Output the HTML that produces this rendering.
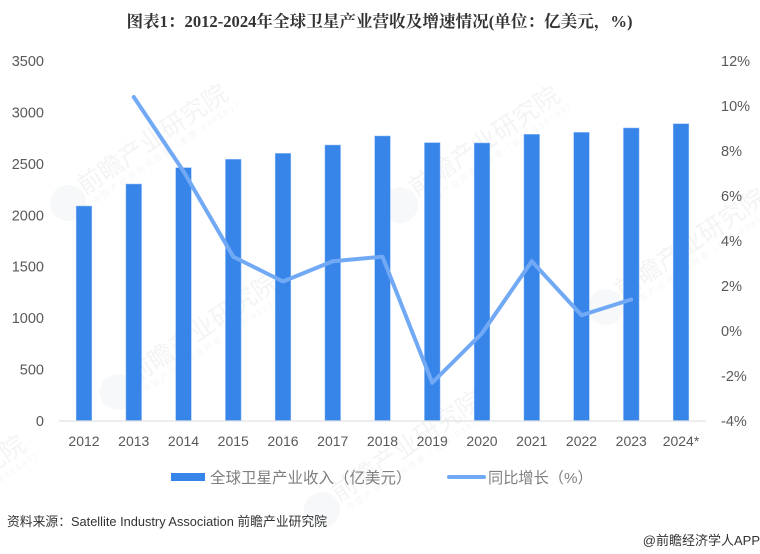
<!DOCTYPE html>
<html lang="zh-CN">
<head>
<meta charset="utf-8">
<title>全球卫星产业营收及增速情况</title>
<style>
html,body{margin:0;padding:0;background:#fff;}
body{width:760px;height:554px;overflow:hidden;}
svg{display:block;}
text{font-family:"Liberation Sans","Noto Sans CJK SC",sans-serif;}
</style>
</head>
<body>
<svg id="chart" width="760" height="554" viewBox="0 0 760 554" xmlns="http://www.w3.org/2000/svg">
  <rect x="0" y="0" width="760" height="554" fill="#ffffff"/>
  <g id="watermarks"></g>
  <text x="379.5" y="27" text-anchor="middle" font-size="16.6" font-weight="700" fill="#333333" style="font-family:'Liberation Serif','Noto Serif CJK SC',serif">图表1：2012-2024年全球卫星产业营收及增速情况(单位：亿美元，%)</text>
  <g id="left-axis"></g>
  <g id="right-axis"></g>
  <g id="bars"></g>
  <line x1="59" y1="421" x2="706" y2="421" stroke="#e2e2e2" stroke-width="1.2"/>
  <g id="x-axis"></g>
  <path id="growth-line" fill="none" stroke="#72a9f5" stroke-width="4" stroke-linecap="round" stroke-linejoin="round"/>
  <g>
    <rect x="171" y="473" width="34" height="8" fill="#3885e9"/>
    <text x="210" y="483" font-size="15.5" fill="#7f7f7f">全球卫星产业收入（亿美元）</text>
    <line x1="449" y1="477" x2="484" y2="477" stroke="#72a9f5" stroke-width="4" stroke-linecap="round"/>
    <text x="488" y="483" font-size="15.2" fill="#7f7f7f">同比增长（%）</text>
  </g>
  <text x="7" y="526" font-size="12.8" fill="#333333">资料来源：Satellite Industry Association 前瞻产业研究院</text>
  <text x="760" y="545" text-anchor="end" font-size="13" fill="#333333">@前瞻经济学人APP</text>
</svg>
<script>
const categories = ['2012','2013','2014','2015','2016','2017','2018','2019','2020','2021','2022','2023','2024*'];
const revenueValues = [2090,2304,2463,2544,2602,2683,2771,2706,2703,2787,2806,2849,2890];
const growthValues = [null,10.4,7.1,3.3,2.2,3.1,3.3,-2.3,-0.1,3.1,0.7,1.4,null];
const leftTicks = [0,500,1000,1500,2000,2500,3000,3500];
const rightTicks = [-4,-2,0,2,4,6,8,10,12];

const NS = 'http://www.w3.org/2000/svg';
const plotTop = 61, plotBottom = 421, firstX = 84, stepX = 49.75, barWidth = 15.6;
const leftMax = 3500, rightMin = -4, rightMax = 12;
function xPos(i){ return firstX + stepX * i; }
function yLeft(v){ return plotBottom - (v / leftMax) * (plotBottom - plotTop); }
function yRight(v){ return plotBottom - ((v - rightMin) / (rightMax - rightMin)) * (plotBottom - plotTop); }
function make(tag, parent){
  const el = document.createElementNS(NS, tag);
  parent.appendChild(el);
  return el;
}

const leftAxis = document.getElementById('left-axis');
leftTicks.forEach(function(t){
  const el = make('text', leftAxis);
  
  
  el.setAttribute('x', 44);
  el.setAttribute('y', yLeft(t) + 5);
  el.setAttribute('text-anchor', 'end');
  el.setAttribute('font-size', '14.5');
  el.setAttribute('fill', '#595959');
  el.textContent = String(t);
});

const rightAxis = document.getElementById('right-axis');
rightTicks.forEach(function(t){
  const el = make('text', rightAxis);
  
  
  el.setAttribute('x', 721);
  el.setAttribute('y', yRight(t) + 5);
  el.setAttribute('font-size', '14.5');
  el.setAttribute('fill', '#595959');
  el.textContent = t + '%';
});

const barsGroup = document.getElementById('bars');
revenueValues.forEach(function(v, i){
  const el = make('rect', barsGroup);
  
  
  el.setAttribute('x', xPos(i) - barWidth / 2);
  el.setAttribute('y', yLeft(v));
  el.setAttribute('width', barWidth);
  el.setAttribute('height', plotBottom - yLeft(v));
  el.setAttribute('fill', '#3885e9');
  el.setAttribute('stroke', '#8dbbf6');
  el.setAttribute('stroke-width', '0.5');
});

const xAxis = document.getElementById('x-axis');
categories.forEach(function(c, i){
  const el = make('text', xAxis);
  
  
  el.setAttribute('x', xPos(i));
  el.setAttribute('y', 446);
  el.setAttribute('text-anchor', 'middle');
  el.setAttribute('font-size', '14');
  el.setAttribute('fill', '#595959');
  el.textContent = c;
});

let d = '';
growthValues.forEach(function(v, i){
  if (v === null) return;
  d += (d === '' ? 'M' : 'L') + xPos(i) + ' ' + yRight(v) + ' ';
});
document.getElementById('growth-line').setAttribute('d', d.trim());

const watermarkAnchors = [[68,203],[400,205],[118,392],[606,307],[322,510],[-134,554]];
const wm = document.getElementById('watermarks');
watermarkAnchors.forEach(function(p){
  const g = make('g', wm);
  
  
  g.setAttribute('transform', 'translate(' + p[0] + ' ' + p[1] + ') rotate(-34)');
  const logo = make('circle', g);
  
  
  logo.setAttribute('cx', 0);
  logo.setAttribute('cy', 0);
  logo.setAttribute('r', 18);
  logo.setAttribute('fill', '#f7f8f9');
  const t1 = make('text', g);
  
  
  t1.setAttribute('x', 18);
  t1.setAttribute('y', 3);
  t1.setAttribute('font-size', '25');
  t1.setAttribute('fill', '#f3f4f5');
  t1.textContent = '前瞻产业研究院';
  const t2 = make('text', g);
  
  
  t2.setAttribute('x', 22);
  t2.setAttribute('y', 16);
  t2.setAttribute('font-size', '8.5');
  t2.setAttribute('letter-spacing', '2');
  t2.setAttribute('fill', '#f5f6f7');
  t2.textContent = '中国产业咨询领导者（股票:839599）';
});
</script>
</body>
</html>
